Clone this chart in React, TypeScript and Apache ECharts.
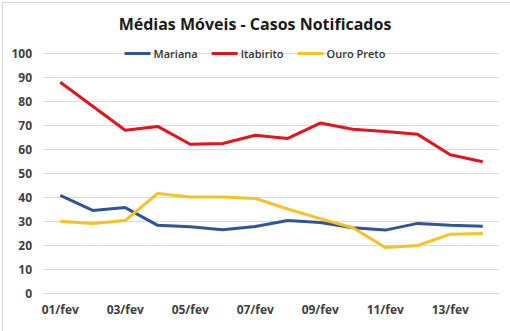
import React, { useEffect, useRef } from "react";
import * as echarts from "echarts";

const categories = ["01/fev","02/fev","03/fev","04/fev","05/fev","06/fev","07/fev","08/fev","09/fev","10/fev","11/fev","12/fev","13/fev","14/fev"];
const mariana = [40.7, 34.4, 35.6, 28.2, 27.6, 26.4, 27.7, 30.2, 29.4, 27.2, 26.2, 29.0, 28.2, 27.8];
const itabirito = [87.8, 77.8, 67.8, 69.4, 62.0, 62.3, 65.7, 64.4, 70.8, 68.2, 67.3, 66.1, 57.6, 54.7];
const ouroPreto = [29.9, 29.0, 30.2, 41.5, 40.0, 40.0, 39.4, 35.0, 31.0, 27.2, 19.0, 19.8, 24.5, 24.8];
const yTicks = { min: 0, max: 100, interval: 10 };

export default function App() {
  const ref = useRef<HTMLDivElement>(null);
  useEffect(() => {
    if (!ref.current) return;
    const chart = echarts.init(ref.current, undefined, { renderer: "svg" });
    const font = "Open Sans, Noto Sans, sans-serif";
    chart.setOption({
      animation: false,
      backgroundColor: "#ffffff",
      graphic: [
        { type: "rect", left: 0, top: 0, shape: { x: 0, y: 0, width: 509, height: 330 }, style: { fill: "none", stroke: "#d9d9d9", lineWidth: 1 }, silent: true },
      ],
      title: {
        text: "Médias Móveis - Casos Notificados",
        left: "center",
        top: 11,
        textStyle: { fontFamily: font, fontSize: 16, fontWeight: "bold", color: "#1a1a1a" },
      },
      legend: {
        top: 43,
        left: "center",
        itemWidth: 26,
        itemHeight: 3,
        itemGap: 14,
        icon: "rect",
        textStyle: { fontFamily: font, fontSize: 11, fontWeight: 600, color: "#333333", padding: [0, 0, 0, -2] },
        data: ["Mariana", "Itabirito", "Ouro Preto"],
      },
      grid: { left: 44, right: 11, top: 53, bottom: 38, containLabel: false },
      xAxis: {
        type: "category",
        data: categories,
        boundaryGap: true,
        axisLine: { show: true, lineStyle: { color: "#d9d9d9" } },
        axisTick: { show: false },
        axisLabel: { interval: 1, margin: 10, fontFamily: font, fontSize: 12, fontWeight: "bold", color: "#404040" },
      },
      yAxis: {
        type: "value",
        min: yTicks.min,
        max: yTicks.max,
        interval: yTicks.interval,
        axisLine: { show: false },
        axisTick: { show: false },
        splitLine: { lineStyle: { color: "#d9d9d9" } },
        axisLabel: { margin: 12, fontFamily: font, fontSize: 12, fontWeight: "bold", color: "#404040" },
      },
      series: [
        { name: "Mariana", type: "line", data: mariana, showSymbol: false, symbol: "none", color: "#2F5597", lineStyle: { width: 3, color: "#2F5597" } },
        { name: "Itabirito", type: "line", data: itabirito, showSymbol: false, symbol: "none", color: "#E3141B", lineStyle: { width: 3, color: "#E3141B" } },
        { name: "Ouro Preto", type: "line", data: ouroPreto, showSymbol: false, symbol: "none", color: "#F5C125", lineStyle: { width: 3, color: "#F5C125" } },
      ],
    });
    return () => chart.dispose();
  }, []);
  return <div ref={ref} style={{ position: "absolute", left: 0, top: 0, width: 510, height: 331 }} />;
}
